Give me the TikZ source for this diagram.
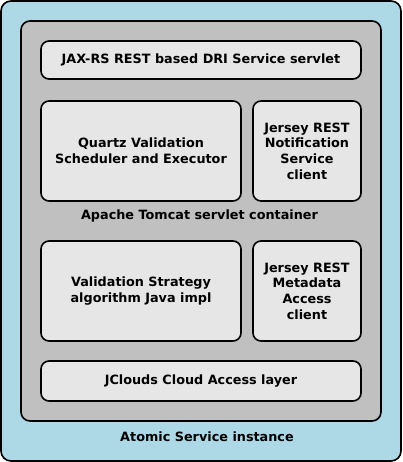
\documentclass[tikz,border=0pt]{standalone}
\usepackage{fontspec}
\setmainfont{DejaVu Sans}
\begin{document}
\begin{tikzpicture}[x=1pt,y=-1pt,
  box/.style={draw=black,line width=1.6pt,rounded corners=8pt,fill=boxgray},
  lbl/.style={font=\bfseries\fontsize{12.8}{15.6}\selectfont,align=center,inner sep=0pt}]
\definecolor{boxgray}{HTML}{E6E6E6}
\definecolor{midgray}{HTML}{C0C0C0}
\definecolor{outerblue}{HTML}{ADD8E6}
\useasboundingbox (0,0) rectangle (402,462);
\draw[line width=1.6pt,rounded corners=10pt,fill=outerblue] (1,1) rectangle (401,461);
\draw[line width=1.6pt,rounded corners=9pt,fill=midgray] (21,21) rectangle (381,421);
\node[box,minimum width=320pt,minimum height=38pt,lbl] (jax) at (201,60) {JAX-RS REST based DRI Service servlet};
\node[box,minimum width=200pt,minimum height=100pt,lbl] (quartz) at (141,151) {Quartz Validation\\Scheduler and Executor};
\node[box,minimum width=108pt,minimum height=100pt,lbl] (notif) at (307,151) {Jersey REST\\Notification\\Service\\client};
\node[lbl] (tomcat) at (199.5,216) {Apache Tomcat servlet container};
\node[box,minimum width=200pt,minimum height=100pt,lbl] (valid) at (141,291) {Validation Strategy\\algorithm Java impl};
\node[box,minimum width=108pt,minimum height=100pt,lbl] (meta) at (307,291) {Jersey REST\\Metadata\\Access\\client};
\node[box,minimum width=320pt,minimum height=40pt,lbl] (jclouds) at (201,381) {JClouds Cloud Access layer};
\node[lbl] (atomic) at (207,437) {Atomic Service instance};
\end{tikzpicture}
\end{document}
